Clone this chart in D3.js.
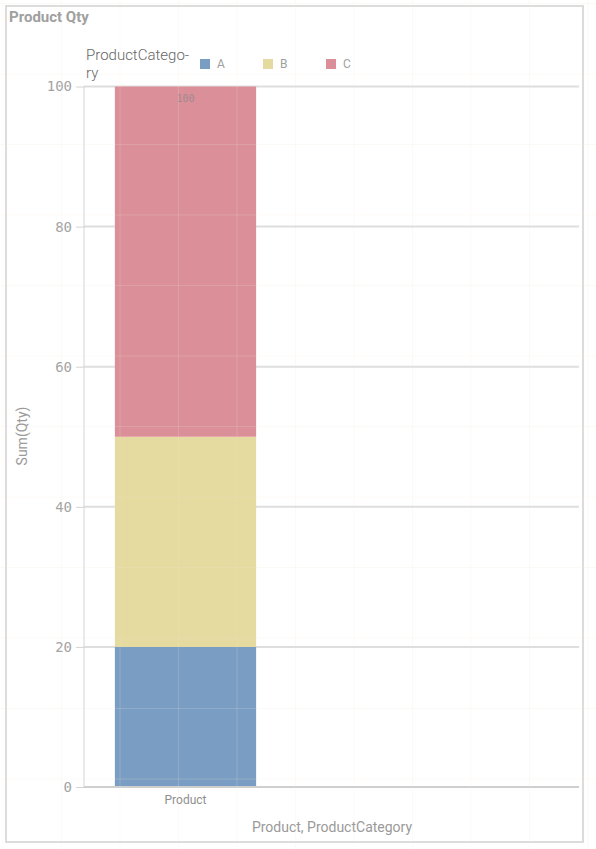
<!DOCTYPE html>
<html>
<head>
<meta charset="utf-8">
<script src="https://cdn.jsdelivr.net/npm/d3@7"></script>
<style>
	body { margin: 0; background: #fff; }
	text { font-family: Roboto, "Open Sans", sans-serif; }
	.mono { font-family: "DejaVu Sans Mono", monospace; }
</style>
</head>
<body>
<svg id="chart" width="596" height="849"></svg>
<script>
var products = ["Product"];
var categories = ["A", "B", "C"];
var qtyA = [20];
var qtyB = [30];
var qtyC = [50];
var yTicks = [0, 20, 40, 60, 80, 100];
var colors = ["#7a9ec3", "#e5da9f", "#db8f99"];

var svg = d3.select("#chart");
var plotLeft = 84, plotRight = 579, plotTop = 86.5, plotBottom = 787;

let rows = products.map(function(p, i) {
	return { product: p, A: qtyA[i], B: qtyB[i], C: qtyC[i] };
});
let stacked = d3.stack().keys(categories)(rows);

let x = d3.scaleBand()
	.domain(products)
	.range([plotLeft, plotLeft + 203])
	.paddingInner(0.3)
	.paddingOuter(0.153);
let y = d3.scaleLinear()
	.domain([0, 100])
	.range([plotBottom, plotTop]);
let color = d3.scaleOrdinal().domain(categories).range(colors);

// outer frame
svg.append("rect")
	.attr("x", 6).attr("y", 6)
	.attr("width", 577).attr("height", 836)
	.attr("fill", "none")
	.attr("stroke", "#dcdcdc")
	.attr("stroke-width", 2);

svg.append("text")
	.attr("x", 9).attr("y", 22)
	.text("Product Qty")
	.attr("font-weight", "bold")
	.attr("font-size", 15)
	.attr("fill", "#a0a0a0");

// gridlines
svg.append("g")
	.selectAll("line")
	.data(yTicks)
	.join("line")
	.attr("x1", plotLeft).attr("x2", plotRight)
	.attr("y1", d => y(d)).attr("y2", d => y(d))
	.attr("stroke", "#dedede")
	.attr("stroke-width", 2);

// bars
svg.append("g")
	.selectAll("g")
	.data(stacked)
	.join("g")
	.attr("fill", d => color(d.key))
	.selectAll("rect")
	.data(d => d)
	.join("rect")
	.attr("x", d => x(d.data.product))
	.attr("y", d => y(d[1]))
	.attr("width", x.bandwidth())
	.attr("height", d => y(d[0]) - y(d[1]));

// total label
svg.append("g")
	.selectAll("text")
	.data(rows)
	.join("text")
	.attr("class", "mono")
	.attr("x", d => x(d.product) + x.bandwidth() / 2)
	.attr("y", d => y(d.A + d.B + d.C) + 15)
	.attr("text-anchor", "middle")
	.attr("font-size", 10)
	.attr("fill", "#a08a8e")
	.text(d => d.A + d.B + d.C);

// y axis
let yAxis = svg.append("g")
	.attr("transform", "translate(" + plotLeft + ",0)")
	.call(d3.axisLeft(y).tickValues(yTicks).tickSize(8).tickPadding(4).tickFormat(d3.format("d")));
yAxis.select(".domain").attr("stroke", "#d4d4d4").attr("d", "M0," + plotTop + "V" + plotBottom);
yAxis.selectAll(".tick line").attr("stroke", "#d4d4d4");
yAxis.selectAll(".tick text")
	.attr("class", "mono")
	.attr("font-size", 14)
	.attr("fill", "#a3a3a3");

// x axis
let xAxis = svg.append("g")
	.attr("transform", "translate(0," + plotBottom + ")")
	.call(d3.axisBottom(x).tickSize(0).tickPadding(8));
xAxis.select(".domain").attr("stroke", "#cfcfcf").attr("stroke-width", 2)
	.attr("d", "M" + plotLeft + ",0H" + plotRight);
xAxis.selectAll(".tick text")
	.attr("font-size", 12)
	.attr("fill", "#8f8f8f")
	.style("font-family", "Roboto, sans-serif");

svg.append("text")
	.attr("x", 332).attr("y", 832)
	.attr("text-anchor", "middle")
	.attr("font-size", 14)
	.attr("fill", "#9a9a9a")
	.text("Product, ProductCategory");

svg.append("text")
	.attr("transform", "translate(27,436) rotate(-90)")
	.attr("text-anchor", "middle")
	.attr("font-size", 14)
	.attr("fill", "#9a9a9a")
	.text("Sum(Qty)");

// legend
svg.append("text")
	.attr("x", 86).attr("y", 60)
	.attr("font-size", 15)
	.attr("font-weight", 300)
	.attr("fill", "#666")
	.text("ProductCatego-");
svg.append("text")
	.attr("x", 86).attr("y", 78)
	.attr("font-size", 15)
	.attr("font-weight", 300)
	.attr("fill", "#666")
	.text("ry");

let legendX = d3.scaleOrdinal().domain(categories).range([200, 263, 326]);
let legend = svg.append("g")
	.selectAll("g")
	.data(categories)
	.join("g")
	.attr("transform", d => "translate(" + legendX(d) + ",59)");
legend.append("rect")
	.attr("width", 10).attr("height", 10)
	.attr("fill", d => color(d));
legend.append("text")
	.attr("x", 17).attr("y", 9)
	.attr("font-size", 12)
	.attr("fill", "#a0a0a0")
	.text(d => d);

// faint sheet grid over everything
let gridX = d3.range(3, 596, 58.5);
let gridY = d3.range(3.5, 849, 70.5);
let grid = svg.append("g").attr("stroke", "#f0e6d6").attr("stroke-opacity", 0.2);
grid.selectAll(".gx").data(gridX).join("line")
	.attr("x1", d => d).attr("x2", d => d)
	.attr("y1", 0).attr("y2", 849);
grid.selectAll(".gy").data(gridY).join("line")
	.attr("x1", 0).attr("x2", 596)
	.attr("y1", d => d).attr("y2", d => d);
</script>
</body>
</html>
